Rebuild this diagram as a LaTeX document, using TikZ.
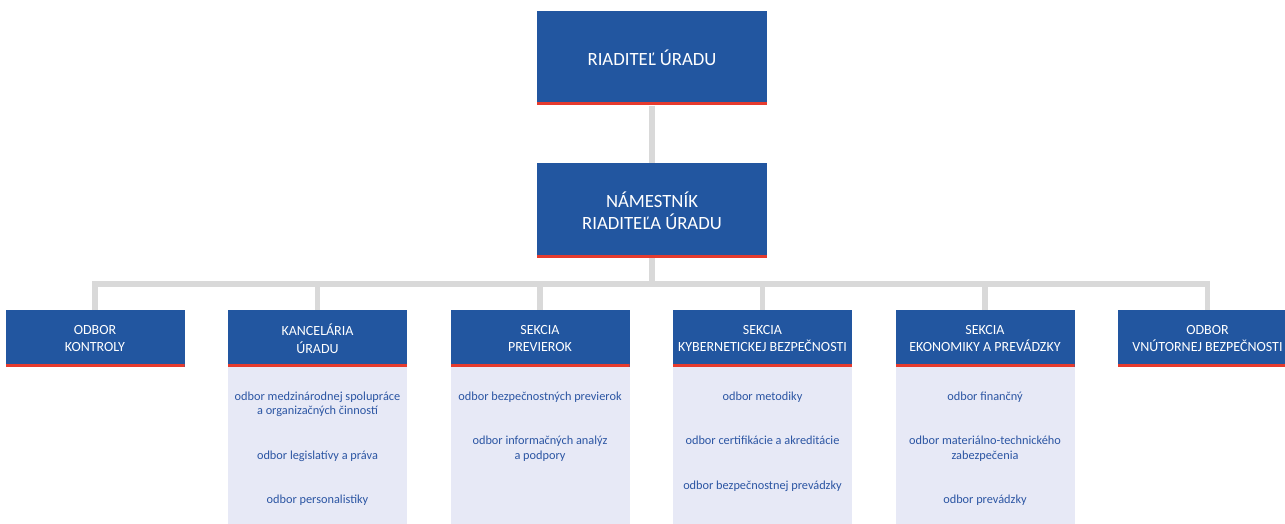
\documentclass[tikz,border=0pt]{standalone}
\usepackage{fontspec}
\setmainfont{Carlito}
\usetikzlibrary{positioning}
\definecolor{ublue}{HTML}{2256A0}
\definecolor{ured}{HTML}{E63B2E}
\definecolor{ugray}{HTML}{D9D9D9}
\definecolor{upanel}{HTML}{E7E9F6}
\definecolor{utext}{HTML}{2B55A3}
\begin{document}
\begin{tikzpicture}[x=1pt, y=1pt, node distance=222.5pt, auto,
    head/.style={fill=ublue, text=white, align=center, inner sep=0pt,
      minimum width=230pt, font=\fontsize{18.7}{22}\selectfont,
      path picture={\fill[ured] (path picture bounding box.south west)
        rectangle ([yshift=3.5pt]path picture bounding box.south east);}},
    unit/.style={head, minimum width=179pt, minimum height=57pt,
      font=\fontsize{14}{17.5}\selectfont},
    panel/.style={fill=upanel, text=utext, inner sep=0pt,
      font=\fontsize{12.3}{14.5}\selectfont},
    conn/.style={draw=ugray, line width=5.5pt}]
  \useasboundingbox (0,0) rectangle (1285,-524);
  \node[head, minimum height=94.5pt] (riad) at (652,-58.25) {RIADITEĽ ÚRADU};
  \node[head, minimum height=95pt] (nam) at (652,-210.5) {NÁMESTNÍK\\RIADITEĽA ÚRADU};
  \node[unit] (kon) at (95,-338.5) {ODBOR\\KONTROLY};
  \node[unit, right of=kon] (kan) {KANCELÁRIA\\ÚRADU};
  \node[unit, right of=kan] (prev) {SEKCIA\\PREVIEROK};
  \node[unit, right of=prev] (kyb) {SEKCIA\\KYBERNETICKEJ BEZPEČNOSTI};
  \node[unit, right of=kyb] (eko) {SEKCIA\\EKONOMIKY A PREVÁDZKY};
  \node[unit, right of=eko] (vnut) {ODBOR\\VNÚTORNEJ BEZPEČNOSTI};
  % odbory pod sekciami
  \node[panel, below=0pt of kan] (pkan) {\parbox[t][160pt][t]{179pt}{\centering
      \rule{0pt}{33pt}odbor medzinárodnej spolupráce\\a organizačných činností\\[30pt]
      odbor legislatívy a práva\\[30pt]odbor personalistiky}};
  \node[panel, below=0pt of prev] (pprev) {\parbox[t][160pt][t]{179pt}{\centering
      \rule{0pt}{33pt}odbor bezpečnostných previerok\\[30pt]
      odbor informačných analýz\\a podpory}};
  \node[panel, below=0pt of kyb] (pkyb) {\parbox[t][160pt][t]{179pt}{\centering
      \rule{0pt}{33pt}odbor metodiky\\[30pt]
      odbor certifikácie a akreditácie\\[30pt]odbor bezpečnostnej prevádzky}};
  \node[panel, below=0pt of eko] (peko) {\parbox[t][160pt][t]{179pt}{\centering
      \rule{0pt}{33pt}odbor finančný\\[30pt]
      odbor materiálno-technického\\zabezpečenia\\[30pt]odbor prevádzky}};
  % spojnice
  \coordinate[below=26pt of nam] (bus);
  \draw[conn] (riad) -- (nam);
  \foreach \u in {kon,kan,prev,kyb,eko,vnut}
    \draw[conn] (nam) -- (bus) -| (\u);
\end{tikzpicture}
\end{document}
